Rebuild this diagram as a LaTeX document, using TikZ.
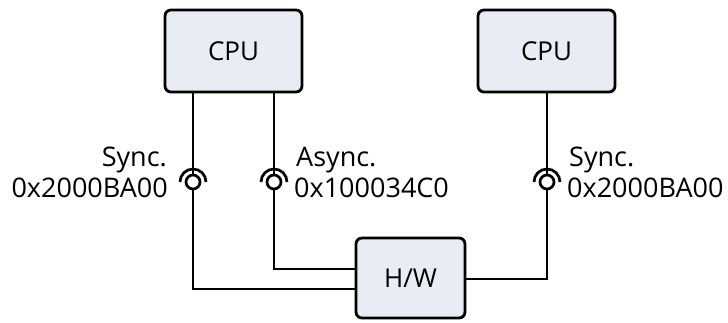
\documentclass[tikz,border=0pt]{standalone}
\usepackage{fontspec}
\setmainfont{Open Sans}
\definecolor{boxfill}{RGB}{232,236,245}
\tikzset{
  unit/.style={draw=black, line width=2.8pt, fill=boxfill, rounded corners=6pt, inner sep=0pt, font=\fontsize{26}{31}\selectfont},
  wire/.style={line width=2.7pt},
  sock/.style={circle, draw=black, line width=2.7pt, fill=white, minimum size=14pt, inner sep=0pt},
  lbl/.style={inner sep=0pt, font=\fontsize{27}{31}\selectfont}
}
\begin{document}
\begin{tikzpicture}[x=1pt,y=-1pt]
\useasboundingbox (0,0) rectangle (728,323);
% boxes
\node[unit, minimum width=137pt, minimum height=82pt] (cpu1) at (233.5,51) {CPU};
\node[unit, minimum width=137pt, minimum height=82pt] (cpu2) at (546.5,51) {CPU};
\node[unit, minimum width=109pt, minimum height=80pt] (hw) at (410.5,278) {H/W};
% sockets
\node[sock] (s1) at (193,182) {};
\node[sock] (s2) at (274,182) {};
\node[sock] (s3) at (547,182) {};
% wires
\coordinate (c1) at (193,289);
\coordinate (c2) at (274,269);
\coordinate (c3) at (547,279);
\draw[wire] (cpu1.south -| s1) -- (s1.north);
\draw[wire] (s1.south) -- (c1) -- (c1 -| hw.west);
\draw[wire] (cpu1.south -| s2) -- (s2.north);
\draw[wire] (s2.south) -- (c2) -- (c2 -| hw.west);
\draw[wire] (cpu2.south -| s3) -- (s3.north);
\draw[wire] (s3.south) -- (c3) -- (c3 -| hw.east);
% arcs
\foreach \s in {s1,s2,s3}{
  \draw[wire] (\s.center) ++(13pt,0pt) arc[start angle=0, end angle=180, radius=13pt];
}
% labels
\node[lbl, anchor=base east] (l1a) at (167,167) {Sync.};
\node[lbl, anchor=base east] (l1b) at (168,198) {0x2000BA00};
\node[lbl, anchor=base west] (l2a) at (296,167) {Async.};
\node[lbl, anchor=base west] (l2b) at (294,198) {0x100034C0};
\node[lbl, anchor=base west] (l3a) at (569,167) {Sync.};
\node[lbl, anchor=base west] (l3b) at (567,198) {0x2000BA00};
\end{tikzpicture}
\end{document}
